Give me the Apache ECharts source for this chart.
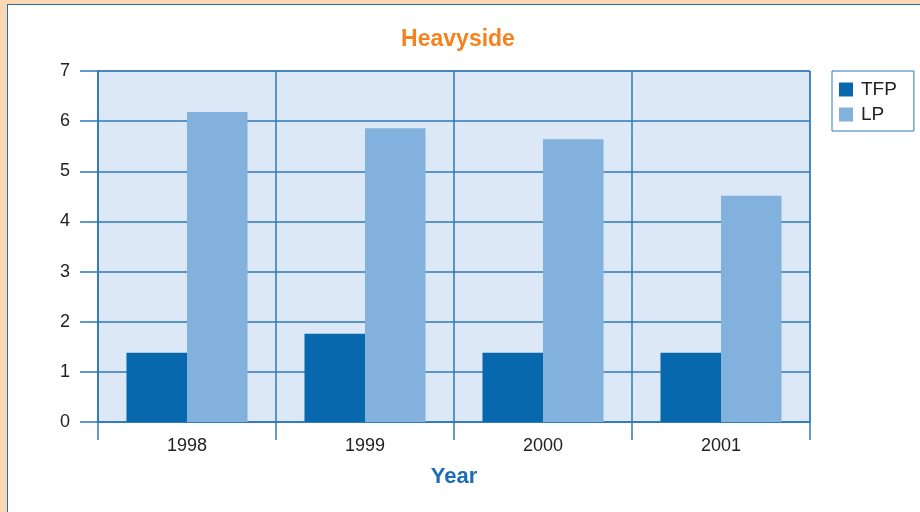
<!DOCTYPE html>
<html>
<head>
<meta charset="utf-8">
<script src="https://cdn.jsdelivr.net/npm/echarts@6/dist/echarts.min.js"></script>
<style>
  html, body { margin: 0; padding: 0; background: #fdd8b5; }
  #frame {
    position: absolute; left: 7px; top: 4px; width: 913px; height: 508px;
    border-left: 1px solid #1f6fb2; border-top: 1px solid #1f6fb2;
    background: #ffffff;
  }
  #myChart { width: 912px; height: 507px; }
</style>
</head>
<body>
<div id="frame"><div id="myChart"></div></div>
<script>
const years = ['1998', '1999', '2000', '2001'];
const tfp = [1.38, 1.76, 1.38, 1.38];
const lp = [6.18, 5.86, 5.64, 4.51];
const yTicks = [0, 7, 1];

const lineColor = '#2f78b8';
const font = '"Liberation Sans", Arial, sans-serif';

let myChart = echarts.init(document.getElementById('myChart'));
let option = {
    animation: false,
    textStyle: { fontFamily: font },
    title: {
        text: 'Heavyside',
        left: 445,
        top: 18,
        textAlign: 'center',
        textStyle: { color: '#f5821f', fontSize: 23, fontWeight: 'bold', fontFamily: font }
    },
    legend: {
        orient: 'vertical',
        left: 824,
        top: 66,
        data: ['TFP', 'LP'],
        icon: 'rect',
        itemWidth: 14,
        itemHeight: 14,
        itemGap: 6,
        padding: [9, 17, 7, 7],
        borderColor: '#2f78b8',
        borderWidth: 1,
        textStyle: { fontSize: 19, color: '#222', fontFamily: font, padding: [0, 0, 0, 3] }
    },
    grid: {
        left: 90,
        top: 66,
        width: 712,
        height: 351,
        show: true,
        backgroundColor: '#dce8f5',
        borderColor: lineColor,
        borderWidth: 1
    },
    xAxis: {
        type: 'category',
        data: years,
        name: 'Year',
        nameLocation: 'middle',
        nameGap: 44,
        nameTextStyle: { color: '#1a6db4', fontSize: 22, fontWeight: 'bold', fontFamily: font },
        axisLine: { lineStyle: { color: lineColor, width: 1.5 } },
        axisTick: { show: true, length: 18, lineStyle: { color: lineColor, width: 1.5 } },
        axisLabel: { color: '#222', fontSize: 18, margin: 15 },
        splitLine: { show: true, lineStyle: { color: lineColor, width: 1.5 } }
    },
    yAxis: {
        type: 'value',
        min: yTicks[0],
        max: yTicks[1],
        interval: yTicks[2],
        axisLine: { show: true, lineStyle: { color: lineColor, width: 1.5 } },
        axisTick: { show: true, length: 18, lineStyle: { color: lineColor, width: 1.5 } },
        axisLabel: { color: '#222', fontSize: 18, margin: 28 },
        splitLine: { show: true, lineStyle: { color: lineColor, width: 1.5 } }
    },
    series: [
        {
            name: 'TFP',
            type: 'bar',
            data: tfp,
            barGap: '0%',
            barCategoryGap: '32%',
            itemStyle: { color: '#0868ad' }
        },
        {
            name: 'LP',
            type: 'bar',
            data: lp,
            barGap: '0%',
            barCategoryGap: '32%',
            itemStyle: { color: '#83b1dd' }
        }
    ]
};
myChart.setOption(option);
</script>
</body>
</html>
